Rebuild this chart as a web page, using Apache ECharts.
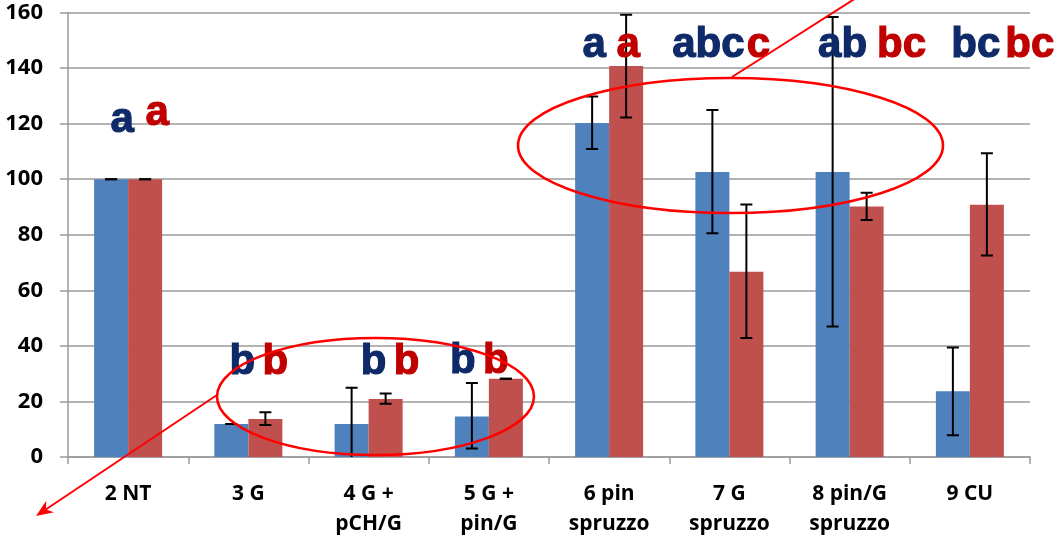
<!DOCTYPE html>
<html>
<head>
<meta charset="utf-8">
<script src="https://cdn.jsdelivr.net/npm/echarts@6/dist/echarts.min.js"></script>
<style>
html,body{margin:0;padding:0;background:#fff;}
#c{width:1057px;height:539px;}
</style>
</head>
<body>
<div id="c"></div>
<script>
// ---- data ----
const categories = ['2 NT', '3 G', '4 G +\npCH/G', '5 G +\npin/G', '6 pin\nspruzzo', '7 G\nspruzzo', '8 pin/G\nspruzzo', '9 CU'];
const yTicks = [0, 20, 40, 60, 80, 100, 120, 140, 160];
const blueValues = [100, 11.9, 11.9, 14.6, 120.2, 102.6, 102.6, 23.7];
const redValues  = [100, 13.7, 20.9, 28.2, 140.7, 66.7, 90.2, 90.8];
const blueErrLow  = [100, 11.9, -1.5, 3.1, 110.9, 80.5, 47.0, 7.8];
const blueErrHigh = [100, 11.9, 24.9, 26.6, 129.8, 124.9, 158.4, 39.4];
const redErrLow   = [100, 11.5, 19.2, 28.2, 122.2, 42.8, 85.3, 72.5];
const redErrHigh  = [100, 16.1, 22.9, 28.2, 159.2, 90.9, 95.1, 109.3];
const blueLetters = ['a', 'b', 'b', 'b', 'a', 'abc', 'ab', 'bc'];
const redLetters  = ['a', 'b', 'b', 'b', 'a', 'c', 'bc', 'bc'];
const blueLetterLevel = [116.1, 29.1, 29.1, 29.4, 143.2, 143.2, 143.2, 143.2];
const redLetterLevel  = [118.5, 29.1, 29.1, 29.4, 143.2, 143.2, 143.2, 143.2];

// ---- layout / style constants ----
const BAR_W = 34;
const BLUE = '#4F81BD', RED = '#C0504D';
const BLUE_TXT = '#0F2A68', RED_TXT = '#C00000';
const GRAY = '#9a9a9a';
const AXIS_FONT = '"Open Sans", "Liberation Sans", Arial, sans-serif';
const blueLetterDx = [-6, -6, 5, -26, -15, -21, -7, 6];
const redLetterDx  = [29, 27, 38, 7, 19, 29, 52, 60];

const chart = echarts.init(document.getElementById('c'), null, {renderer: 'canvas'});

function errSeries(low, high, side) {
  return {
    type: 'custom',
    clip: true,
    z: 5,
    data: low.map((l, i) => [i, l, high[i]]),
    encode: {x: 0, y: [1, 2]},
    renderItem: function (params, api) {
      const i = api.value(0);
      const p1 = api.coord([i, api.value(1)]);
      const p2 = api.coord([i, api.value(2)]);
      const x = p1[0] + side * BAR_W / 2;
      const cap = 6;
      const st = {stroke: '#000', lineWidth: 2};
      return {
        type: 'group',
        children: [
          {type: 'line', shape: {x1: x, y1: p1[1], x2: x, y2: p2[1]}, style: st},
          {type: 'line', shape: {x1: x - cap, y1: p1[1], x2: x + cap, y2: p1[1]}, style: st},
          {type: 'line', shape: {x1: x - cap, y1: p2[1], x2: x + cap, y2: p2[1]}, style: st}
        ]
      };
    }
  };
}

function letterSeries(letters, levels, dx, color) {
  return {
    type: 'custom',
    clip: false,
    z: 6,
    data: levels.map((v, i) => [i, v]),
    encode: {x: 0, y: 1},
    renderItem: function (params, api) {
      const i = api.value(0);
      const p = api.coord([i, api.value(1)]);
      return {
        type: 'text',
        x: p[0] + dx[params.dataIndex],
        y: p[1] - 14,
        style: {
          text: letters[params.dataIndex],
          fill: color,
          stroke: color,
          lineWidth: 1.2,
          font: 'bold 42px "Liberation Sans", Arial, sans-serif',
          align: 'center',
          verticalAlign: 'middle'
        }
      };
    }
  };
}

// arrow head helper (annotation only)
function arrowHead(tipX, tipY, fromX, fromY, len, half) {
  const dx = tipX - fromX, dy = tipY - fromY;
  const d = Math.sqrt(dx * dx + dy * dy);
  const ux = dx / d, uy = dy / d;
  const px = -uy, py = ux;
  const bx = tipX - ux * len, by = tipY - uy * len;
  const nx = tipX - ux * len * 0.7, ny = tipY - uy * len * 0.7;
  return [[tipX, tipY], [bx + px * half, by + py * half], [nx, ny], [bx - px * half, by - py * half]];
}

const option = {
  backgroundColor: '#ffffff',
  animation: false,
  grid: {left: 68, right: 27, top: 12.5, bottom: 82},
  xAxis: {
    type: 'category',
    data: categories,
    boundaryGap: true,
    axisLine: {show: true, lineStyle: {color: GRAY, width: 1.5}},
    axisTick: {show: true, length: 7, alignWithLabel: false, lineStyle: {color: GRAY, width: 1.5}},
    axisLabel: {
      interval: 0,
      margin: 22,
      color: '#000',
      fontFamily: AXIS_FONT,
      fontWeight: 'bold',
      fontSize: 21,
      lineHeight: 30
    },
    splitLine: {show: false}
  },
  yAxis: {
    type: 'value',
    min: yTicks[0],
    max: yTicks[yTicks.length - 1],
    interval: yTicks[1] - yTicks[0],
    axisLine: {show: true, lineStyle: {color: GRAY, width: 1.5}},
    axisTick: {show: true, length: 8, lineStyle: {color: GRAY, width: 1.5}},
    axisLabel: {
      margin: 25,
      color: '#000',
      fontFamily: AXIS_FONT,
      fontWeight: 'bold',
      fontSize: 22
    },
    splitLine: {show: true, lineStyle: {color: GRAY, width: 1.5}}
  },
  series: [
    {type: 'bar', data: blueValues, barWidth: BAR_W, barGap: '0%', itemStyle: {color: BLUE}, z: 2},
    {type: 'bar', data: redValues, barWidth: BAR_W, barGap: '0%', itemStyle: {color: RED}, z: 2},
    errSeries(blueErrLow, blueErrHigh, -1),
    errSeries(redErrLow, redErrHigh, 1),
    letterSeries(blueLetters, blueLetterLevel, blueLetterDx, BLUE_TXT),
    letterSeries(redLetters, redLetterLevel, redLetterDx, RED_TXT)
  ],
  graphic: [
    {type: 'ellipse', z: 100, shape: {cx: 375.5, cy: 396.5, rx: 158.5, ry: 58.5},
      style: {fill: 'none', stroke: '#FF0000', lineWidth: 2.6}},
    {type: 'ellipse', z: 100, shape: {cx: 730.5, cy: 145.5, rx: 212.5, ry: 67.5},
      style: {fill: 'none', stroke: '#FF0000', lineWidth: 2.6}},
    {type: 'line', z: 100, shape: {x1: 217, y1: 395, x2: 42, y2: 512},
      style: {stroke: '#FF0000', lineWidth: 2}},
    {type: 'polygon', z: 100, shape: {points: arrowHead(36, 516, 217, 395, 17, 7)},
      style: {fill: '#FF0000'}},
    {type: 'line', z: 100, shape: {x1: 732, y1: 77, x2: 856, y2: -2},
      style: {stroke: '#FF0000', lineWidth: 2}}
  ]
};
chart.setOption(option);
</script>
</body>
</html>
